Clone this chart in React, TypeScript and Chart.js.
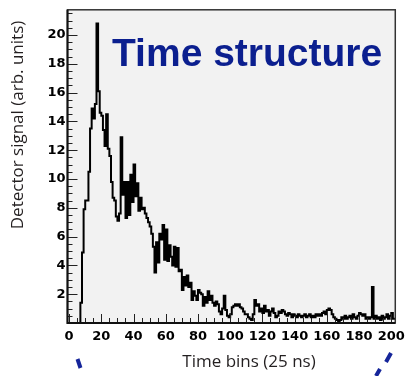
import React, { useEffect, useRef } from 'react';
import { Chart, registerables } from 'chart.js';

Chart.register(...registerables);

// Histogram contents, one value per time bin (bin i covers [i, i+1))
const signal: number[] = [
  0, 0, 0, 0, 0, 0, 0, 0, 1.4, 4.9,
  7.9, 8.5, 8.5, 10.5, 13.5, 14.9, 14.2, 15.2, 20.8, 16.1,
  14.6, 14.4, 13.4, 12.3, 14.5, 12.1, 11.6, 9.8, 8.7, 8.5,
  7.4, 7.1, 7.6, 12.9, 8.9, 9.8, 7.3, 9.8, 7.5, 10.3,
  8.4, 11.0, 8.8, 9.7, 7.8, 8.7, 7.9, 8.0, 7.6, 7.3,
  7.0, 6.7, 6.2, 5.3, 3.5, 5.6, 4.2, 6.2, 5.8, 6.8,
  4.4, 6.5, 4.3, 5.4, 4.6, 4.0, 5.3, 3.9, 5.2, 3.6,
  3.7, 2.3, 3.2, 2.6, 3.3, 2.5, 2.8, 1.6, 2.2, 1.9,
  1.6, 2.3, 2.1, 2.0, 1.2, 1.8, 1.4, 2.2, 1.6, 1.9,
  1.4, 1.2, 1.5, 1.3, 0.8, 0.6, 1.0, 1.9, 0.9, 0.5,
  0.4, 0.6, 1.1, 1.2, 1.3, 1.2, 1.3, 1.1, 1.0, 0.8,
  0.6, 0.6, 0.4, 0.3, 0.2, 0.6, 1.6, 1.2, 1.3, 0.8,
  1.0, 0.7, 1.2, 0.8, 0.9, 0.5, 0.8, 1.0, 0.7, 0.4,
  0.5, 0.8, 0.7, 0.9, 0.8, 0.6, 0.5, 0.7, 0.6, 0.4,
  0.6, 0.5, 0.4, 0.6, 0.5, 0.4, 0.5, 0.6, 0.4, 0.5,
  0.6, 0.4, 0.5, 0.4, 0.6, 0.5, 0.6, 0.5, 0.7, 0.8,
  0.6, 0.9, 1.0, 0.9, 0.6, 0.4, 0.3, 0.2, 0.1, 0.2,
  0.4, 0.3, 0.5, 0.3, 0.4, 0.5, 0.3, 0.6, 0.4, 0.3,
  0.5, 0.7, 0.6, 0.5, 0.6, 0.3, 0.4, 0.3, 0.4, 2.5,
  0.3, 0.5, 0.3, 0.4, 0.2, 0.5, 0.3, 0.4, 0.6, 0.3,
  0.5, 0.7, 0.3,
];

const xTickValues: number[] = [0, 20, 40, 60, 80, 100, 120, 140, 160, 180, 200];
const yTickValues: number[] = [2, 4, 6, 8, 10, 12, 14, 16, 18, 20];
const xRange: number[] = [-1, 202.5];
const yRange: number[] = [0, 21.75];

const titleText = 'Time structure';
const xTitleText = 'Time bins (25 ns)';
const yTitleText = 'Detector signal (arb. units)';

const W = 411;
const H = 376;

const rootStyle = {
  id: 'rootStyle',
  beforeDraw(chart: any) {
    const { ctx, chartArea: a } = chart;
    ctx.save();
    ctx.fillStyle = '#ffffff';
    ctx.fillRect(0, 0, W, H);
    ctx.fillStyle = '#f2f2f2';
    ctx.fillRect(a.left, a.top, a.right - a.left, a.bottom - a.top);
    ctx.restore();
  },
  afterDraw(chart: any) {
    const { ctx, chartArea: a } = chart;
    const xs = chart.scales.x;
    const ys = chart.scales.y;
    ctx.save();
    // ticks (inward)
    ctx.strokeStyle = '#222';
    ctx.lineWidth = 1;
    ctx.beginPath();
    for (let v = 0; v <= 200; v += 5) {
      const px = Math.round(xs.getPixelForValue(v)) + 0.5;
      const len = v % 20 === 0 ? 9 : 5;
      ctx.moveTo(px, a.bottom);
      ctx.lineTo(px, a.bottom - len);
    }
    for (let v = 0; v <= 21.5; v += 0.5) {
      const py = Math.round(ys.getPixelForValue(v)) + 0.5;
      const len = v % 2 === 0 ? 10 : 5;
      ctx.moveTo(a.left, py);
      ctx.lineTo(a.left + len, py);
    }
    ctx.stroke();
    // frame
    ctx.strokeStyle = '#333';
    ctx.lineWidth = 1.5;
    ctx.strokeRect(a.left, a.top, a.right - a.left, a.bottom - a.top);
    ctx.lineWidth = 2;
    ctx.strokeStyle = '#111';
    ctx.beginPath();
    ctx.moveTo(a.left, a.top);
    ctx.lineTo(a.left, a.bottom);
    ctx.lineTo(a.right, a.bottom);
    ctx.stroke();

    // big label
    ctx.fillStyle = '#0b1f8f';
    ctx.font = 'bold 39px "Liberation Sans", Arial, sans-serif';
    ctx.textAlign = 'left';
    ctx.textBaseline = 'alphabetic';
    ctx.fillText(titleText, 112, 66);

    // axis titles
    ctx.fillStyle = '#231f20';
    ctx.font = '17px "Open Sans", sans-serif';
    ctx.textAlign = 'center';
    ctx.textBaseline = 'middle';
    ctx.fillText(xTitleText, 249, 362);
    ctx.save();
    ctx.translate(18, 125);
    ctx.rotate(-Math.PI / 2);
    ctx.fillText(yTitleText, 0, 0);
    ctx.restore();

    // decorative blue dashes from the original figure
    ctx.strokeStyle = '#15259a';
    ctx.lineWidth = 4;
    ctx.lineCap = 'butt';
    ctx.beginPath();
    ctx.moveTo(77.5, 359);
    ctx.lineTo(80.5, 368);
    ctx.moveTo(391, 353);
    ctx.lineTo(386, 362);
    ctx.moveTo(380, 369);
    ctx.lineTo(376, 376);
    ctx.stroke();
    ctx.restore();
  },
};

export default function App() {
  const ref = useRef<HTMLCanvasElement | null>(null);
  useEffect(() => {
    document.body.style.margin = '0';
    const canvas = ref.current!;
    const points = signal.map((v, i) => ({ x: i, y: v }));
    points.push({ x: signal.length, y: signal[signal.length - 1] });
    const chart = new Chart(canvas, {
      type: 'line',
      data: {
        datasets: [
          {
            data: points,
            stepped: 'after',
            borderColor: '#000',
            borderWidth: 2,
            pointRadius: 0,
            fill: false,
          } as any,
        ],
      },
      options: {
        responsive: false,
        animation: false,
        devicePixelRatio: 1,
        layout: { padding: { left: 0, top: 4, right: 14.5, bottom: 0 } },
        plugins: { legend: { display: false }, tooltip: { enabled: false } },
        scales: {
          x: {
            type: 'linear',
            min: xRange[0],
            max: xRange[1],
            grid: { display: false, drawTicks: false },
            border: { display: false },
            afterBuildTicks: (s: any) => {
              s.ticks = xTickValues.map((v) => ({ value: v }));
            },
            afterFit: (s: any) => {
              s.height = 53;
            },
            ticks: {
              padding: 6,
              color: '#000',
              maxRotation: 0,
              autoSkip: false,
              font: { family: '"DejaVu Sans", sans-serif', weight: 'bold', size: 13 },
            },
          },
          y: {
            type: 'linear',
            min: yRange[0],
            max: yRange[1],
            grid: { display: false, drawTicks: false },
            border: { display: false },
            afterBuildTicks: (s: any) => {
              s.ticks = yTickValues.map((v) => ({ value: v }));
            },
            afterFit: (s: any) => {
              s.width = 67.5;
            },
            ticks: {
              padding: 2,
              color: '#000',
              autoSkip: false,
              font: { family: '"DejaVu Sans", sans-serif', weight: 'bold', size: 13 },
            },
          },
        },
      },
      plugins: [rootStyle],
    });
    return () => chart.destroy();
  }, []);
  return (
    <div style={{ position: 'absolute', left: 0, top: 0, width: W, height: H }}>
      <canvas ref={ref} width={W} height={H} style={{ width: W, height: H }} />
    </div>
  );
}
